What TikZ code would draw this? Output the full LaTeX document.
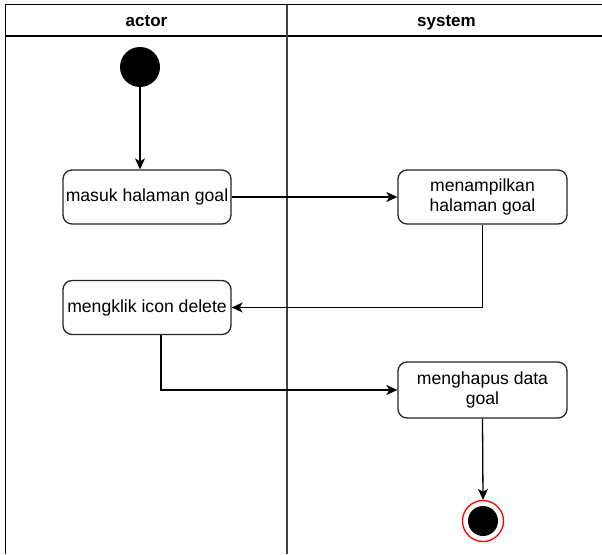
\documentclass[tikz,border=0pt]{standalone}
\usepackage{fontspec}
\setmainfont{Liberation Sans}
\usetikzlibrary{arrows.meta}
\begin{document}
\begin{tikzpicture}[x=1pt,y=-1pt,
  lane/.style={draw=black,line width=1.6pt},
  act/.style={draw=black!85,line width=1.3pt,rounded corners=9pt,fill=white,
    align=center,inner sep=0pt,font=\fontsize{17.6}{20.5}\selectfont},
  flow/.style={draw=black,line width=1.3pt,
    -{Stealth[length=11pt,width=10pt,inset=3pt]}},
  head/.style={font=\bfseries\fontsize{17}{20}\selectfont,anchor=base},
  initial/.style={circle,fill=black,minimum size=40pt,inner sep=0pt},
  finalring/.style={circle,draw=red,line width=1.3pt,fill=white,minimum size=41pt,inner sep=0pt},
  finalcore/.style={circle,fill=black,minimum size=30pt,inner sep=0pt}
]
\useasboundingbox (0,0) rectangle (602,554);

% swimlane frame and headers
\draw[lane] (602,4.5) -- (5.5,4.5) -- (5.5,554);
\draw[lane] (5.5,36) -- (602,36);
\draw[lane,draw=black!75,line width=1.5pt] (287,4.5) -- (287,554);
\node[head] (actor) at (146.5,26) {actor};
\node[head] (system) at (446.5,26) {system};

% activity nodes
\node[initial] (start) at (140,67) {};
\node[act,minimum width=168pt,minimum height=54pt] (s1) at (147,197) {masuk halaman goal};
\node[act,minimum width=169pt,minimum height=54pt] (s2) at (482.5,197) {menampilkan\\halaman goal};
\node[act,minimum width=168pt,minimum height=54pt] (s3) at (147,307.5) {mengklik icon delete};
\node[act,minimum width=169pt,minimum height=56pt] (s4) at (482.5,390) {menghapus data\\goal};
\node[finalring] (end) at (483,521) {};
\node[finalcore] (endcore) at (end.center) {};

% control flow
\draw[flow] (start) -- (start |- s1.north);
\draw[flow] (s1.east) -- (s2.west);
\draw[flow] (s2.south) |- (s3.east);
\draw[flow] ([xshift=14pt]s3.south) |- (s4.west);
\draw[flow] (s4.south) -- (end.north);
\end{tikzpicture}
\end{document}
